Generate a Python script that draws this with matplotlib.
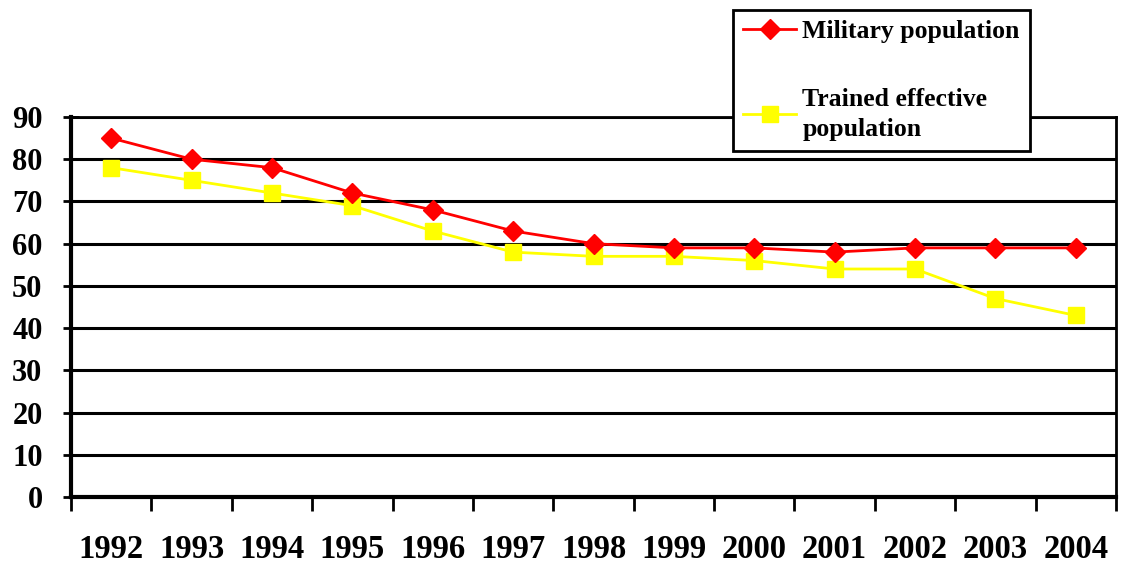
import matplotlib
matplotlib.use("Agg")
import matplotlib.pyplot as plt
from matplotlib.ticker import FixedLocator

years = ["1992", "1993", "1994", "1995", "1996", "1997", "1998",
         "1999", "2000", "2001", "2002", "2003", "2004"]
military = [85, 80, 78, 72, 68, 63, 60, 59, 59, 58, 59, 59, 59]
trained = [78, 75, 72, 69, 63, 58, 57, 57, 56, 54, 54, 47, 43]
y_ticks = [0, 10, 20, 30, 40, 50, 60, 70, 80, 90]

plt.rcParams['font.family'] = ['Liberation Serif', 'DejaVu Serif']
plt.rcParams['font.weight'] = 'bold'

fig = plt.figure(figsize=(11.26, 5.67), dpi=100)
ax = fig.add_axes([71/1126, 1 - 497/567, (1116 - 71)/1126, (497 - 117)/567])

x = list(range(len(years)))
ax.plot(x, military, color='#ff0000', lw=2, marker='D', markersize=10,
        markeredgecolor='#ff0000', markerfacecolor='#ff0000',
        label='Military population', zorder=4)
ax.plot(x, trained, color='#ffff00', lw=2, marker='s', markersize=11,
        markeredgecolor='#ffff00', markerfacecolor='#ffff00',
        label='Trained effective\npopulation', zorder=3)

ax.set_xlim(-0.5, len(years) - 0.5)
ax.set_ylim(0, 90)
ax.set_yticks(y_ticks)
ax.set_yticklabels([str(v) for v in y_ticks], fontsize=22, fontweight='bold')
ax.yaxis.grid(True, color='black', lw=2.2)
ax.set_axisbelow(True)

ax.set_xticks(x)
ax.set_xticklabels(years, fontsize=23.5, fontweight='bold')
ax.xaxis.set_minor_locator(FixedLocator([i - 0.5 for i in range(len(years) + 1)]))
ax.tick_params(axis='x', which='major', length=0, pad=27)
ax.tick_params(axis='x', which='minor', length=10, width=2, direction='out')
ax.tick_params(axis='y', which='major', length=11, width=2, direction='inout', pad=15)

for side in ['left', 'bottom']:
    ax.spines[side].set_linewidth(3)
ax.spines['top'].set_linewidth(2)
ax.spines['right'].set_linewidth(2)

leg = ax.legend(loc='upper left', bbox_to_anchor=(733/1126, 1 - 10/567),
                bbox_transform=fig.transFigure, fontsize=18.5,
                frameon=True, fancybox=False, framealpha=1, edgecolor='black',
                handlelength=2.05, handletextpad=0.25, labelspacing=1.75,
                borderpad=0.4, borderaxespad=0)
leg.get_frame().set_linewidth(2)
for t in leg.get_texts():
    t.set_fontweight('bold')
    t.set_linespacing(1.35)

fig.savefig('out.png', dpi=100)
